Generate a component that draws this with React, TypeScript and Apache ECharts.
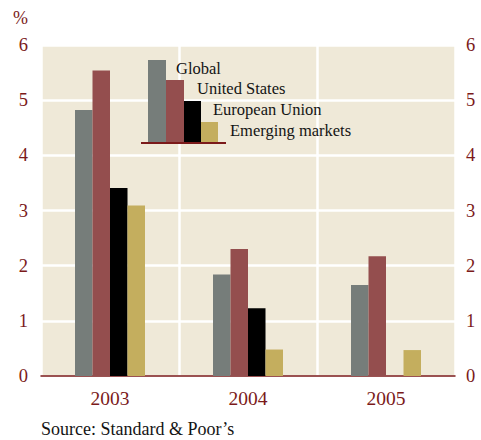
import React, { useEffect, useRef } from "react";
import * as echarts from "echarts";

const categories = ["2003", "2004", "2005"];
const seriesNames = ["Global", "United States", "European Union", "Emerging markets"];
const globalVals = [4.82, 1.84, 1.65];
const usVals = [5.54, 2.3, 2.17];
const euVals: (number | null)[] = [3.41, 1.23, null];
const emVals = [3.09, 0.48, 0.47];
const yTicks = [0, 1, 2, 3, 4, 5, 6];

const colors = ["#767d7a", "#944e4e", "#000000", "#c4ae5e"];
const RED = "#7b1a1a";
const FONT = "Liberation Serif";

export default function App() {
  const ref = useRef<HTMLDivElement>(null);
  useEffect(() => {
    if (!ref.current) return;
    const chart = echarts.init(ref.current, undefined, { renderer: "svg" });
    const data = [globalVals, usVals, euVals, emVals];
    const legendY = [60, 80, 101, 122];
    const legendX = [148, 166, 184, 201];
    const legendW = [18, 18, 17, 17];
    const textX = [176, 197, 213, 230];
    const textY = [68, 88, 109, 130];
    const graphics: any[] = [];
    seriesNames.forEach((n, i) => {
      graphics.push({
        type: "rect",
        shape: { x: legendX[i], y: legendY[i], width: legendW[i], height: 143 - legendY[i] },
        style: { fill: colors[i] },
        z: 100,
      });
      graphics.push({
        type: "text",
        x: textX[i],
        y: textY[i],
        style: { text: n, fill: "#141414", font: `16.5px "${FONT}"`, textVerticalAlign: "middle" },
        z: 100,
      });
    });
    graphics.push({
      type: "line",
      shape: { x1: 141, y1: 143, x2: 226, y2: 143 },
      style: { stroke: RED, lineWidth: 2 },
      z: 101,
    });
    graphics.push({
      type: "text",
      x: 13,
      y: 18,
      style: { text: "%", fill: RED, font: `18px "${FONT}"`, textVerticalAlign: "middle" },
    });
    graphics.push({
      type: "text",
      x: 41,
      y: 429,
      style: { text: "Source: Standard & Poor\u2019s", fill: "#141414", font: `18px "${FONT}"`, textVerticalAlign: "middle" },
    });

    const yAxisBase = {
      type: "value",
      min: yTicks[0],
      max: yTicks[yTicks.length - 1],
      interval: 1,
      axisLine: { show: false },
      axisTick: { show: false },
    };

    chart.setOption({
      animation: false,
      textStyle: { fontFamily: FONT },
      grid: {
        left: 41,
        right: 26,
        top: 45,
        bottom: 64,
        show: true,
        backgroundColor: "#efe9d8",
        borderWidth: 0,
      },
      xAxis: {
        type: "category",
        data: categories,
        axisLine: { lineStyle: { color: RED, width: 1.5 } },
        axisTick: { show: false },
        axisLabel: { color: RED, fontSize: 19.5, fontFamily: FONT, margin: 12 },
        splitLine: { show: true, lineStyle: { color: "#ffffff", width: 2.5 } },
      },
      yAxis: [
        {
          ...yAxisBase,
          position: "left",
          axisLabel: { color: RED, fontSize: 18.5, fontFamily: FONT, margin: 13 },
          splitLine: { show: true, lineStyle: { color: "#ffffff", width: 2.5 } },
        },
        {
          ...yAxisBase,
          position: "right",
          axisLabel: { color: RED, fontSize: 18.5, fontFamily: FONT, margin: 11 },
          splitLine: { show: false },
        },
      ],
      series: seriesNames.map((n, i) => ({
        name: n,
        type: "bar",
        data: data[i],
        barWidth: 17.5,
        barGap: "0%",
        itemStyle: { color: colors[i] },
      })),
      graphic: graphics,
    });
    return () => chart.dispose();
  }, []);
  return <div ref={ref} style={{ width: 481, height: 440, position: "absolute", left: 0, top: 0 }} />;
}
